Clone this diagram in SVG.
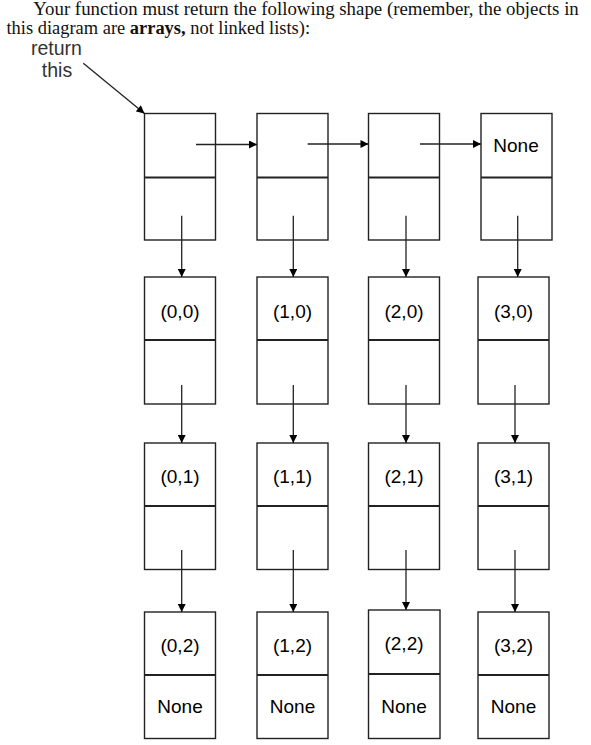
<svg xmlns="http://www.w3.org/2000/svg" width="591" height="745" viewBox="0 0 591 745">
<style>
.hdr{font-family:"Liberation Serif","Times New Roman",serif;font-size:18.5px;fill:#111}
.lbl{font-family:"Liberation Sans",Arial,sans-serif;font-size:19.5px;fill:#333;text-anchor:middle}
.cell{fill:#fff;stroke:#222;stroke-width:1.4}
.div{stroke:#222;stroke-width:2}
.txt{font-family:"Liberation Sans",Arial,sans-serif;font-size:19px;fill:#000;text-anchor:middle}
.arr{stroke:#222;stroke-width:1.3;fill:none;marker-end:url(#ah)}
</style>
<defs>
<marker id="ah" viewBox="0 0 10 10" refX="10" refY="5" markerWidth="9" markerHeight="8" markerUnits="userSpaceOnUse" orient="auto">
<path d="M0,0 L10,5 L0,10 z" fill="#000"/>
</marker>
</defs>
<rect width="591" height="745" fill="#fff"/>
<text class="hdr" x="33.3" y="14.8" textLength="545.5" lengthAdjust="spacingAndGlyphs">Your function must return the following shape (remember, the objects in</text>
<text class="hdr" x="6.5" y="34" textLength="303.5" lengthAdjust="spacingAndGlyphs">this diagram are <tspan font-weight="bold">arrays,</tspan> not linked lists):</text>
<text class="lbl" x="56.5" y="55">return</text>
<text class="lbl" x="57" y="76.7">this</text>

<g id="n_head0"><rect class="cell" x="144.5" y="113.5" width="71" height="126.5"/><line class="div" x1="144.5" y1="177.5" x2="215.5" y2="177.5"/></g>
<g id="n_head1"><rect class="cell" x="257" y="113.5" width="71" height="126.5"/><line class="div" x1="257" y1="177.5" x2="328" y2="177.5"/></g>
<g id="n_head2"><rect class="cell" x="368.5" y="113.5" width="71" height="126.5"/><line class="div" x1="368.5" y1="177.5" x2="439.5" y2="177.5"/></g>
<g id="n_head3"><rect class="cell" x="481" y="113.5" width="71" height="126.5"/><line class="div" x1="481" y1="177.5" x2="552" y2="177.5"/><text class="txt" x="516" y="151.7">None</text></g>

<g id="n_00"><rect class="cell" x="144.5" y="277" width="71" height="127"/><line class="div" x1="144.5" y1="340" x2="215.5" y2="340"/><text class="txt" x="180" y="317.5">(0,0)</text></g>
<g id="n_10"><rect class="cell" x="257" y="277" width="71" height="127"/><line class="div" x1="257" y1="340" x2="328" y2="340"/><text class="txt" x="292.5" y="317.5">(1,0)</text></g>
<g id="n_20"><rect class="cell" x="368.5" y="277" width="71" height="127"/><line class="div" x1="368.5" y1="340" x2="439.5" y2="340"/><text class="txt" x="404" y="317.5">(2,0)</text></g>
<g id="n_30"><rect class="cell" x="478" y="277" width="71" height="127"/><line class="div" x1="478" y1="340" x2="549" y2="340"/><text class="txt" x="513.5" y="317.5">(3,0)</text></g>

<g id="n_01"><rect class="cell" x="144.5" y="443" width="71" height="126.5"/><line class="div" x1="144.5" y1="506" x2="215.5" y2="506"/><text class="txt" x="180" y="482.5">(0,1)</text></g>
<g id="n_11"><rect class="cell" x="257" y="443" width="71" height="126.5"/><line class="div" x1="257" y1="506" x2="328" y2="506"/><text class="txt" x="292.5" y="482.5">(1,1)</text></g>
<g id="n_21"><rect class="cell" x="368.5" y="443" width="71" height="126.5"/><line class="div" x1="368.5" y1="506" x2="439.5" y2="506"/><text class="txt" x="404" y="482.5">(2,1)</text></g>
<g id="n_31"><rect class="cell" x="478" y="443" width="71" height="126.5"/><line class="div" x1="478" y1="506" x2="549" y2="506"/><text class="txt" x="513.5" y="482.5">(3,1)</text></g>

<g id="n_02"><rect class="cell" x="144.5" y="612" width="71" height="126.5"/><line class="div" x1="144.5" y1="675" x2="215.5" y2="675"/><text class="txt" x="180" y="651.5">(0,2)</text><text class="txt" x="180" y="713.3">None</text></g>
<g id="n_12"><rect class="cell" x="257" y="612" width="71" height="126.5"/><line class="div" x1="257" y1="675" x2="328" y2="675"/><text class="txt" x="292.5" y="651.5">(1,2)</text><text class="txt" x="292.5" y="713.3">None</text></g>
<g id="n_22"><rect class="cell" x="368.5" y="610" width="71.5" height="128.5"/><line class="div" x1="368.5" y1="674" x2="440" y2="674"/><text class="txt" x="404" y="650">(2,2)</text><text class="txt" x="404" y="713.3">None</text></g>
<g id="n_32"><rect class="cell" x="478" y="612" width="71" height="126.5"/><line class="div" x1="478" y1="675" x2="549" y2="675"/><text class="txt" x="513.5" y="651.5">(3,2)</text><text class="txt" x="513.5" y="713.3">None</text></g>

<g id="connectors">
<line class="arr" x1="83.3" y1="63.3" x2="144.5" y2="113.5"/>
<line class="arr" x1="196" y1="144.5" x2="257" y2="144.5"/>
<line class="arr" x1="307.7" y1="144" x2="368.5" y2="144"/>
<line class="arr" x1="420" y1="144" x2="481" y2="144"/>
<line class="arr" x1="181.7" y1="215.7" x2="181.7" y2="277"/>
<line class="arr" x1="293.3" y1="215.7" x2="293.3" y2="277"/>
<line class="arr" x1="406" y1="215.7" x2="406" y2="277"/>
<line class="arr" x1="517.7" y1="215.7" x2="517.7" y2="277"/>
<line class="arr" x1="181.7" y1="385" x2="181.7" y2="443"/>
<line class="arr" x1="293.3" y1="385" x2="293.3" y2="443"/>
<line class="arr" x1="406" y1="385" x2="406" y2="443"/>
<line class="arr" x1="515" y1="385" x2="515" y2="443"/>
<line class="arr" x1="181.7" y1="550" x2="181.7" y2="612"/>
<line class="arr" x1="293.3" y1="550" x2="293.3" y2="612"/>
<line class="arr" x1="406" y1="550" x2="406" y2="610"/>
<line class="arr" x1="515" y1="550" x2="515" y2="612"/>
</g>
</svg>
